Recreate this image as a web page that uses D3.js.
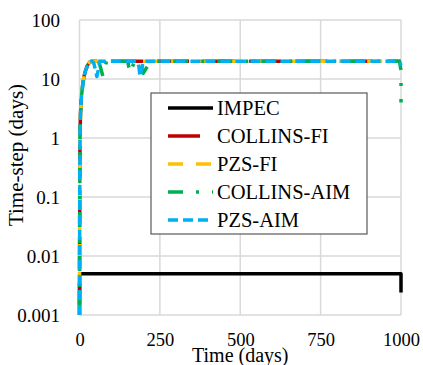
<!DOCTYPE html>
<html>
<head>
<meta charset="utf-8">
<script src="https://cdn.jsdelivr.net/npm/d3@7"></script>
<style>
  body { margin: 0; background: #fff; }
  svg { display: block; }
</style>
</head>
<body>
<div id="chart"></div>
<script>
// tick labels
const xTicks = [0, 250, 500, 750, 1000];
const yTicks = [0.001, 0.01, 0.1, 1, 10, 100];
const yTickLabels = ["0.001", "0.01", "0.1", "1", "10", "100"];

// start-up ramp shared by the four implicit runs
const rampT = [0, 0.3, 0.8, 1.5, 3, 6, 10, 14, 19, 25, 32, 38];
const rampV = [0.001, 0.01, 0.1, 1, 2.5, 5, 8, 11, 14, 17, 19.5, 20];

// IMPEC
const impecT = [0, 0.5, 1000, 1000];
const impecV = [0.0015, 0.005, 0.005, 0.0024];

// COLLINS-FI
const collinsFiT = rampT.concat([1000]);
const collinsFiV = rampV.concat([20]);

// PZS-FI
const pzsFiT = rampT.concat([1000]);
const pzsFiV = rampV.concat([20]);

// COLLINS-AIM
const collinsAimT = rampT.concat([60, 73, 84, 150, 157, 163, 172, 188, 198, 213, 222, 995, 1000, 1000, 1000]);
const collinsAimV = rampV.concat([20, 11, 20, 20, 12.5, 15.5, 20, 20, 12.5, 17, 20, 20, 14, 7, 4]);

// PZS-AIM
const pzsAimT = rampT.concat([44, 50, 54, 58, 63, 180, 185, 188, 193, 198, 990, 996, 1000]);
const pzsAimV = rampV.concat([19, 14, 11, 14, 20, 20, 16, 11, 14, 20, 20, 19.5, 17]);

const seriesNames = ["IMPEC", "COLLINS-FI", "PZS-FI", "COLLINS-AIM", "PZS-AIM"];
const seriesT = [impecT, collinsFiT, pzsFiT, collinsAimT, pzsAimT];
const seriesV = [impecV, collinsFiV, pzsFiV, collinsAimV, pzsAimV];

const colors = ["#000000", "#c00000", "#ffc000", "#00b050", "#00b0f0"];
const dashes = ["none", "32,14", "15,13", "15,13,3,13", "10,5"];

const W = 423, H = 365;
const m = { l: 79.5, r: 22, t: 20, b: 50 };
const FONT = "Times New Roman";

const svg = d3.select("#chart").append("svg")
  .attr("width", W)
  .attr("height", H);

const x = d3.scaleLinear().domain([0, 1000]).range([m.l, W - m.r]);
const y = d3.scaleLog().domain([0.001, 100]).range([H - m.b, m.t]);

// grid
const grid = svg.append("g").attr("stroke", "#d9d9d9").attr("stroke-width", 1.5);
grid.selectAll(".gy").data(yTicks).enter().append("line")
  .attr("x1", m.l).attr("x2", W - m.r)
  .attr("y1", d => y(d)).attr("y2", d => y(d));
grid.selectAll(".gx").data(xTicks).enter().append("line")
  .attr("x1", d => x(d)).attr("x2", d => x(d))
  .attr("y1", m.t).attr("y2", H - m.b);

// axes (labels only)
const ax = svg.append("g")
  .attr("transform", `translate(0,${H - m.b})`)
  .call(d3.axisBottom(x).tickValues(xTicks).tickSize(0).tickPadding(17.5).tickFormat(d3.format("d")))
  .call(g => g.select(".domain").remove());
ax.selectAll("text")
  .attr("fill", "#000")
  .attr("font-family", FONT)
  .attr("font-size", 18.5);

const ay = svg.append("g")
  .attr("transform", `translate(${m.l},0)`)
  .call(d3.axisLeft(y).tickValues(yTicks).tickSize(0).tickPadding(19.5)
    .tickFormat((d, i) => yTickLabels[i]))
  .call(g => g.select(".domain").remove());
ay.selectAll("text")
  .attr("fill", "#000")
  .attr("font-family", FONT)
  .attr("font-size", 19);

// lines
const line = d3.line()
  .x(d => x(d[0]))
  .y(d => y(d[1]));

seriesNames.forEach((name, i) => {
  const pts = seriesT[i].map((t, j) => [t, seriesV[i][j]]);
  svg.append("path")
    .attr("d", line(pts))
    .attr("fill", "none")
    .attr("stroke", colors[i])
    .attr("stroke-width", 3.5)
    .attr("stroke-dasharray", dashes[i])
    .attr("stroke-linejoin", "round");
});

// axis titles
svg.append("text")
  .attr("x", (m.l + W - m.r) / 2)
  .attr("y", 362)
  .attr("text-anchor", "middle")
  .attr("font-family", FONT)
  .attr("font-size", 20)
  .text("Time (days)");

svg.append("text")
  .attr("transform", "translate(23,155) rotate(-90)")
  .attr("text-anchor", "middle")
  .attr("font-family", FONT)
  .attr("font-size", 21)
  .text("Time-step (days)");

// legend
const lg = svg.append("g").attr("transform", "translate(151,93)");
lg.append("rect")
  .attr("width", 216).attr("height", 141)
  .attr("fill", "#fff")
  .attr("stroke", "#595959")
  .attr("stroke-width", 1.2);

seriesNames.forEach((name, i) => {
  const ly = 15 + i * 28;
  lg.append("line")
    .attr("x1", 17).attr("x2", 62)
    .attr("y1", ly).attr("y2", ly)
    .attr("stroke", colors[i])
    .attr("stroke-width", 3.5)
    .attr("stroke-dasharray", dashes[i]);
  lg.append("text")
    .attr("x", 66).attr("y", ly)
    .attr("dy", "0.35em")
    .attr("font-family", FONT)
    .attr("font-size", 20.5)
    .text(name);
});
</script>
</body>
</html>
